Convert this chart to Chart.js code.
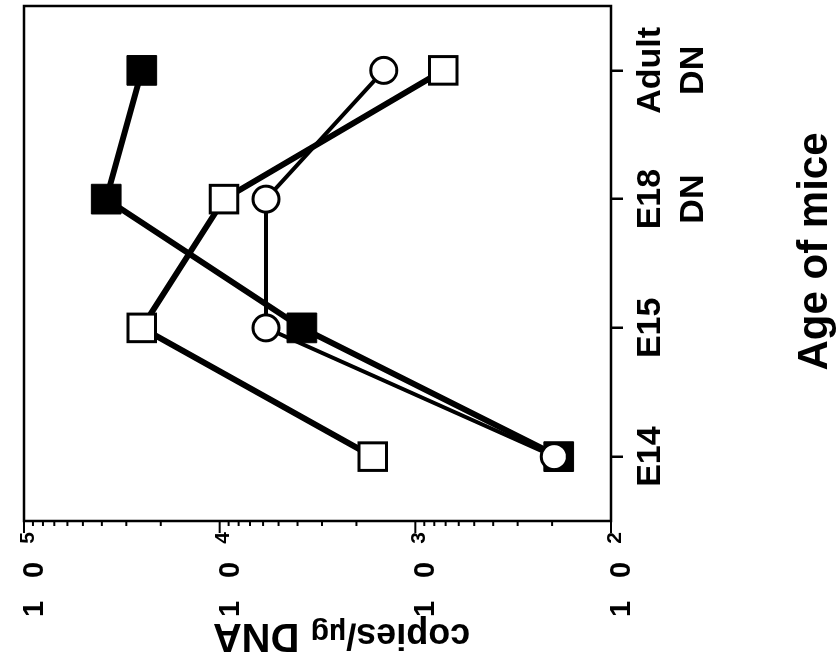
<!DOCTYPE html>
<html>
<head>
<meta charset="utf-8">
<script src="https://cdn.jsdelivr.net/npm/chart.js@4.4.1/dist/chart.umd.min.js"></script>
<style>
  html, body { margin: 0; padding: 0; background: #fff; }
  #wrap { position: relative; width: 837px; height: 666px; overflow: hidden; background: #fff; }
  /* the printed figure is turned on its side: draw it upright, then turn the canvas */
  #chart { position: absolute; left: 0; top: 0; width: 666px; height: 837px;
           transform-origin: 0 0; transform: translate(0, 666px) rotate(-90deg); }
</style>
</head>
<body>
<div id="wrap"><canvas id="chart" width="666" height="837"></canvas></div>
<script>
// ---- data (copies/ug DNA) ----
const ages = [['E14'], ['E15'], ['E18', 'DN'], ['Adult', 'DN']];
const openCircles   = [195, 5800, 5800, 1450];
const filledSquares = [185, 3800, 38000, 25000];
const openSquares   = [1650, 25000, 9500, 720];
const decadeExps = [2, 3, 4, 5];           // tick labels 10^2 .. 10^5
const minorSteps = [2, 3, 4, 5, 6, 7, 8, 9];

const FONT = "'Liberation Sans', Arial, sans-serif";

function seg(ctx, x1, y1, x2, y2) {
  ctx.beginPath(); ctx.moveTo(x1, y1); ctx.lineTo(x2, y2); ctx.stroke();
}

// frame, log ticks + labels, axis titles
const figAxes = {
  id: 'figAxes',
  afterDatasetsDraw(chart) {
    const { ctx, chartArea: a } = chart;
    const y = chart.scales.y;
    ctx.save();
    ctx.strokeStyle = '#000';
    ctx.fillStyle = '#000';
    ctx.lineWidth = 2.5;
    ctx.strokeRect(a.left, a.top, a.right - a.left, a.bottom - a.top);

    ctx.lineWidth = 2;
    ctx.textAlign = 'center';
    ctx.textBaseline = 'middle';
    decadeExps.forEach((e, i) => {
      const p = y.getPixelForValue(Math.pow(10, e));
      seg(ctx, a.left - 12, p, a.left, p);
      if (i < decadeExps.length - 1) {
        minorSteps.forEach(m => {
          const q = y.getPixelForValue(m * Math.pow(10, e));
          seg(ctx, a.left - 5, q, a.left, q);
        });
      }
      ctx.font = `bold 29px ${FONT}`;
      ctx.fillText('1', a.left - 88, p + 11);
      ctx.fillText('0', a.left - 49, p + 11);
      ctx.font = `bold 21px ${FONT}`;
      ctx.fillText(String(e), a.left - 17, p + 4);
    });

    // x title
    ctx.font = `bold 42px ${FONT}`;
    ctx.textBaseline = 'alphabetic';
    ctx.fillText('Age of mice', (a.left + a.right) / 2 + 12, 827);

    // y title, mixed sizes, read bottom-to-top
    const parts = [['copies/', 36], ['\u00b5g', 30], [' DNA', 40]];
    let total = 0;
    parts.forEach(pt => { ctx.font = `bold ${pt[1]}px ${FONT}`; total += ctx.measureText(pt[0]).width; });
    ctx.translate(a.left - 103, (a.top + a.bottom) / 2 + 24);
    ctx.rotate(-Math.PI / 2);
    ctx.textAlign = 'left';
    let x0 = -total / 2;
    parts.forEach(pt => {
      ctx.font = `bold ${pt[1]}px ${FONT}`;
      ctx.fillText(pt[0], x0, 0);
      x0 += ctx.measureText(pt[0]).width;
    });
    ctx.restore();
  }
};

new Chart(document.getElementById('chart'), {
  type: 'line',
  data: {
    labels: ages,
    datasets: [
      {
        label: 'open circles', data: openCircles,
        borderColor: '#000', borderWidth: 4, tension: 0,
        pointStyle: 'circle', pointRadius: 13, pointBorderWidth: 3,
        pointBackgroundColor: '#fff', pointBorderColor: '#000'
      },
      {
        label: 'filled squares', data: filledSquares,
        borderColor: '#000', borderWidth: 6, tension: 0,
        pointStyle: 'rect', pointRadius: 21, pointBorderWidth: 1,
        pointBackgroundColor: '#000', pointBorderColor: '#000'
      },
      {
        label: 'open squares', data: openSquares,
        borderColor: '#000', borderWidth: 6, tension: 0,
        pointStyle: 'rect', pointRadius: 19.5, pointBorderWidth: 3,
        pointBackgroundColor: '#fff', pointBorderColor: '#000'
      }
    ]
  },
  options: {
    responsive: false,
    animation: false,
    events: [],
    layout: { padding: { top: 24, right: 6, left: 0, bottom: 0 }, autoPadding: false },
    plugins: { legend: { display: false }, tooltip: { enabled: false } },
    scales: {
      x: {
        type: 'category', offset: true,
        grid: { display: true, drawOnChartArea: false, offset: false, drawTicks: true, tickLength: 12, color: '#000', lineWidth: 2.5 },
        border: { display: false },
        ticks: { color: '#000', padding: 6, maxRotation: 0, minRotation: 0, autoSkip: false,
                 font: { family: FONT, size: 34, weight: 'bold', lineHeight: 1.26 } },
        afterFit(scale) { scale.height = 226; }
      },
      y: {
        type: 'logarithmic', min: 100, max: 100000,
        grid: { display: false }, border: { display: false },
        ticks: { display: false },
        afterFit(scale) { scale.width = 145; }
      }
    }
  },
  plugins: [figAxes]
});
</script>
</body>
</html>
